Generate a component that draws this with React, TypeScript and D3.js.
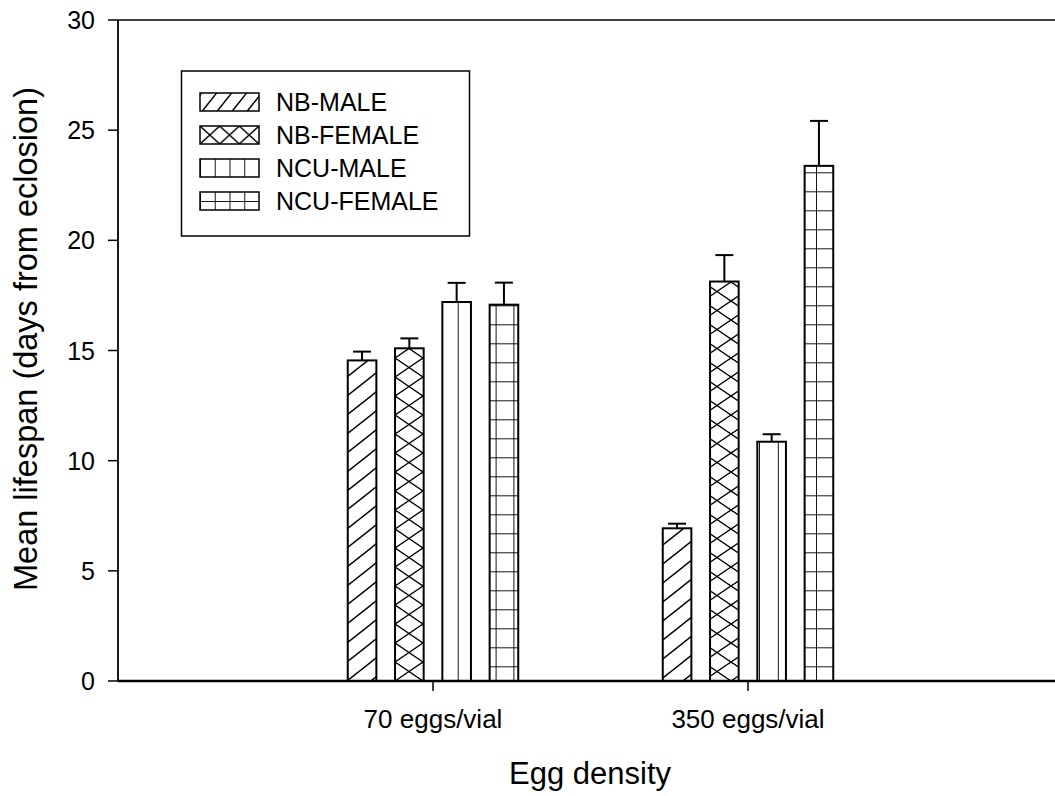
import React from "react";
import * as d3 from "d3";

// Mean lifespan by egg density, four populations/sexes
const categories = ["70 eggs/vial", "350 eggs/vial"];
const seriesNames = ["NB-MALE", "NB-FEMALE", "NCU-MALE", "NCU-FEMALE"];

const nbMale = [14.55, 6.93];
const nbMaleErr = [0.4, 0.21];
const nbFemale = [15.1, 18.13];
const nbFemaleErr = [0.45, 1.2];
const ncuMale = [17.2, 10.86];
const ncuMaleErr = [0.87, 0.34];
const ncuFemale = [17.08, 23.38];
const ncuFemaleErr = [1.0, 2.04];

const yTicks = [0, 5, 10, 15, 20, 25, 30];

const values = [nbMale, nbFemale, ncuMale, ncuFemale];
const errors = [nbMaleErr, nbFemaleErr, ncuMaleErr, ncuFemaleErr];

const W = 1055;
const H = 796;
const left = 118;
const top = 20;
const bottom = 681;
const right = 1063;

const FONT = "'Liberation Sans', Arial, Helvetica, sans-serif";

export default function App() {
  const y = d3.scaleLinear().domain([0, 30]).range([bottom, top]);
  const x = d3.scaleLinear().domain([0, 3]).range([left, right]);
  const inner = d3
    .scaleBand<string>()
    .domain(seriesNames)
    .range([-85.25, 85.25])
    .paddingInner(0.395)
    .paddingOuter(0);
  const bw = inner.bandwidth();
  const fills = ["url(#pDiag)", "url(#pCross)", "url(#pVert)", "url(#pGrid)"];
  const legendFills = ["url(#lDiag)", "url(#lCross)", "url(#lVert)", "url(#lGrid)"];

  const lw = 1.4;
  const legendX = 200;
  const legendW = 59;
  const legendRows = [102, 135, 168, 201];

  return (
    <svg
      width={W}
      height={H}
      style={{ position: "absolute", left: 0, top: 0, background: "#fff" }}
      fontFamily={FONT}
    >
      <defs>
        {/* bar hatches */}
        <pattern id="pDiag" patternUnits="userSpaceOnUse" width={24} height={19} x={347} y={bottom}>
          <rect width={24} height={19} fill="#fff" />
          <path d="M0,19 L24,0 M-2,1.6 L2,-1.6 M22,20.6 L26,17.4" stroke="#000" strokeWidth={lw} />
        </pattern>
        <pattern id="pCross" patternUnits="userSpaceOnUse" width={28} height={19} x={395} y={bottom}>
          <rect width={28} height={19} fill="#fff" />
          <path
            d="M0,0 L28,19 M0,19 L28,0 M-2,-1.4 L2,1.4 M26,17.6 L30,20.4 M-2,20.4 L2,17.6 M26,1.4 L30,-1.4"
            stroke="#000"
            strokeWidth={lw}
          />
        </pattern>
        <pattern id="pVert" patternUnits="userSpaceOnUse" width={18.83} height={20} x={5.8} y={0}>
          <rect width={18.83} height={20} fill="#fff" />
          <line x1={0} x2={0} y1={0} y2={20} stroke="#000" strokeWidth={lw * 1.3} />
        </pattern>
        <pattern id="pGrid" patternUnits="userSpaceOnUse" width={17.8} height={19} x={15} y={1.3}>
          <rect width={17.8} height={19} fill="#fff" />
          <line x1={0} x2={0} y1={0} y2={19} stroke="#000" strokeWidth={lw * 1.3} />
          <line x1={0} x2={17.8} y1={0} y2={0} stroke="#000" strokeWidth={lw * 1.3} />
        </pattern>

        {/* legend swatch hatches */}
        <pattern id="lDiag" patternUnits="userSpaceOnUse" width={15} height={19} x={legendX} y={0}>
          <rect width={15} height={19} fill="#fff" />
          <path d="M0,19 L15,0 M-2,2.5 L2,-2.5 M13,21.5 L17,16.5" stroke="#000" strokeWidth={lw} />
        </pattern>
        <pattern id="lCross" patternUnits="userSpaceOnUse" width={19.67} height={18} x={legendX} y={0}>
          <rect width={19.67} height={18} fill="#fff" />
          <path
            d="M0,0 L19.67,18 M0,18 L19.67,0 M-2,-1.8 L2,1.8 M17.67,16.2 L21.67,19.8 M-2,19.8 L2,16.2 M17.67,1.8 L21.67,-1.8"
            stroke="#000"
            strokeWidth={lw}
          />
        </pattern>
        <pattern id="lVert" patternUnits="userSpaceOnUse" width={14.75} height={20} x={legendX} y={0}>
          <rect width={14.75} height={20} fill="#fff" />
          <line x1={0} x2={0} y1={0} y2={20} stroke="#000" strokeWidth={lw * 1.3} />
        </pattern>
        <pattern id="lGrid" patternUnits="userSpaceOnUse" width={14.75} height={18} x={legendX} y={legendRows[3]}>
          <rect width={14.75} height={18} fill="#fff" />
          <line x1={0} x2={0} y1={0} y2={18} stroke="#000" strokeWidth={lw * 1.3} />
          <line x1={0} x2={14.75} y1={0} y2={0} stroke="#000" strokeWidth={lw * 1.3} />
        </pattern>
      </defs>

      {/* frame */}
      <line x1={left} x2={W} y1={top} y2={top} stroke="#000" strokeWidth={1.5} />
      <line x1={right} x2={right} y1={top} y2={bottom} stroke="#000" strokeWidth={1.5} />

      {/* bars with upward error bars */}
      {categories.map((c, ci) => {
        const cx = x(ci + 1);
        return (
          <g key={c}>
            {seriesNames.map((s, si) => {
              const v = values[si][ci];
              const e = errors[si][ci];
              const bx = cx + (inner(s) as number);
              const mx = bx + bw / 2;
              return (
                <g key={s}>
                  <line x1={mx} x2={mx} y1={y(v)} y2={y(v + e)} stroke="#000" strokeWidth={2} />
                  <line x1={mx - 9} x2={mx + 9} y1={y(v + e)} y2={y(v + e)} stroke="#000" strokeWidth={2} />
                  <rect
                    x={bx}
                    y={y(v)}
                    width={bw}
                    height={y(0) - y(v)}
                    fill={fills[si]}
                    stroke="#000"
                    strokeWidth={2}
                  />
                </g>
              );
            })}
          </g>
        );
      })}

      {/* y axis */}
      <line x1={left} x2={left} y1={top} y2={bottom} stroke="#000" strokeWidth={1.8} />
      {yTicks.map((t) => (
        <g key={t}>
          <line x1={left - 10} x2={left} y1={y(t)} y2={y(t)} stroke="#000" strokeWidth={1.5} />
          <text x={95} y={y(t)} dy="0.36em" textAnchor="end" fontSize={25}>
            {t}
          </text>
        </g>
      ))}

      {/* x axis */}
      <line x1={left} x2={W} y1={bottom} y2={bottom} stroke="#000" strokeWidth={2.5} />
      {categories.map((c, ci) => (
        <g key={c}>
          <line x1={x(ci + 1)} x2={x(ci + 1)} y1={bottom} y2={bottom + 10} stroke="#000" strokeWidth={1.5} />
          <text x={x(ci + 1)} y={728} textAnchor="middle" fontSize={26}>
            {c}
          </text>
        </g>
      ))}

      {/* axis titles */}
      <text x={(510 + 670) / 2} y={784} textAnchor="middle" fontSize={31}>
        Egg density
      </text>
      <text transform="translate(37,339) rotate(-90)" textAnchor="middle" fontSize={32.5}>
        Mean lifespan (days from eclosion)
      </text>

      {/* legend */}
      <rect x={181.5} y={71} width={288} height={165} fill="#fff" stroke="#000" strokeWidth={1.5} />
      {seriesNames.map((s, si) => (
        <g key={s}>
          <rect
            x={legendX}
            y={legendRows[si] - 9}
            width={legendW}
            height={18}
            fill={legendFills[si]}
            stroke="#000"
            strokeWidth={1.5}
          />
          <text x={276} y={legendRows[si]} dy="0.36em" fontSize={25}>
            {s}
          </text>
        </g>
      ))}
    </svg>
  );
}
